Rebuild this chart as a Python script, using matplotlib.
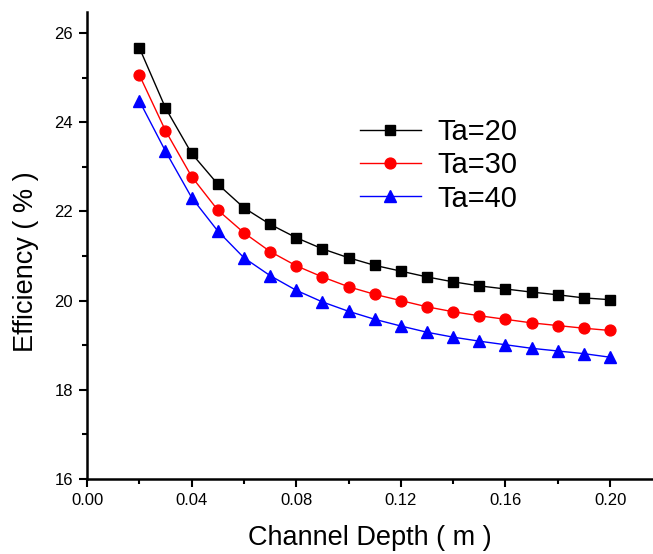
import matplotlib
matplotlib.use("Agg")
import matplotlib.pyplot as plt
from matplotlib.ticker import MultipleLocator

plt.rcParams['font.family'] = ['Liberation Sans', 'DejaVu Sans']

# channel depth (m)
depth = [0.02, 0.03, 0.04, 0.05, 0.06, 0.07, 0.08, 0.09, 0.10, 0.11,
         0.12, 0.13, 0.14, 0.15, 0.16, 0.17, 0.18, 0.19, 0.20]

# efficiency (%) for each ambient temperature
eff_ta20 = [25.67, 24.32, 23.30, 22.61, 22.08, 21.71, 21.41, 21.16, 20.96, 20.79,
            20.66, 20.53, 20.42, 20.33, 20.26, 20.19, 20.13, 20.06, 20.02]
eff_ta30 = [25.06, 23.81, 22.78, 22.03, 21.52, 21.10, 20.78, 20.53, 20.31, 20.14,
            20.00, 19.86, 19.75, 19.66, 19.58, 19.50, 19.44, 19.38, 19.33]
eff_ta40 = [24.48, 23.35, 22.31, 21.56, 20.96, 20.56, 20.23, 19.97, 19.76, 19.58,
            19.43, 19.29, 19.18, 19.09, 19.01, 18.93, 18.87, 18.81, 18.73]

labels = ['Ta=20', 'Ta=30', 'Ta=40']

fig = plt.figure(figsize=(6.53, 5.54), dpi=100)
ax = fig.add_axes([87 / 653, 75 / 554, 566 / 653, 467 / 554])

ax.plot(depth, eff_ta20, color='black', marker='s', markersize=6.8, lw=1, label=labels[0])
ax.plot(depth, eff_ta30, color='red', marker='o', markersize=7.8, lw=1, label=labels[1])
ax.plot(depth, eff_ta40, color='blue', marker='^', markersize=8.5, lw=1, label=labels[2])

ax.set_xlim(0.0, 0.2164)
ax.set_ylim(16, 26.47)
ax.xaxis.set_major_locator(MultipleLocator(0.04))
ax.xaxis.set_minor_locator(MultipleLocator(0.02))
ax.yaxis.set_major_locator(MultipleLocator(2))
ax.yaxis.set_minor_locator(MultipleLocator(1))
ax.xaxis.set_major_formatter(plt.FuncFormatter(lambda v, p: f"{v:.2f}"))

for side in ['top', 'right']:
    ax.spines[side].set_visible(False)
for side in ['left', 'bottom']:
    ax.spines[side].set_linewidth(1.8)

ax.tick_params(which='major', direction='out', length=6, width=1.5, labelsize=12, pad=4)
ax.tick_params(which='minor', direction='out', length=3.5, width=1.5)

ax.set_xlabel('Channel Depth ( m )', fontsize=19.5, labelpad=12)
ax.set_ylabel('Efficiency ( % )', fontsize=19.5)
ax.yaxis.set_label_coords(-0.085, 0.465)

ax.legend(loc='upper left', bbox_to_anchor=(0.482, 0.773), frameon=False,
          fontsize=21, handlelength=2.1, handletextpad=0.55, labelspacing=0.18,
          borderaxespad=0, borderpad=0)

fig.savefig('out.png', dpi=100)
